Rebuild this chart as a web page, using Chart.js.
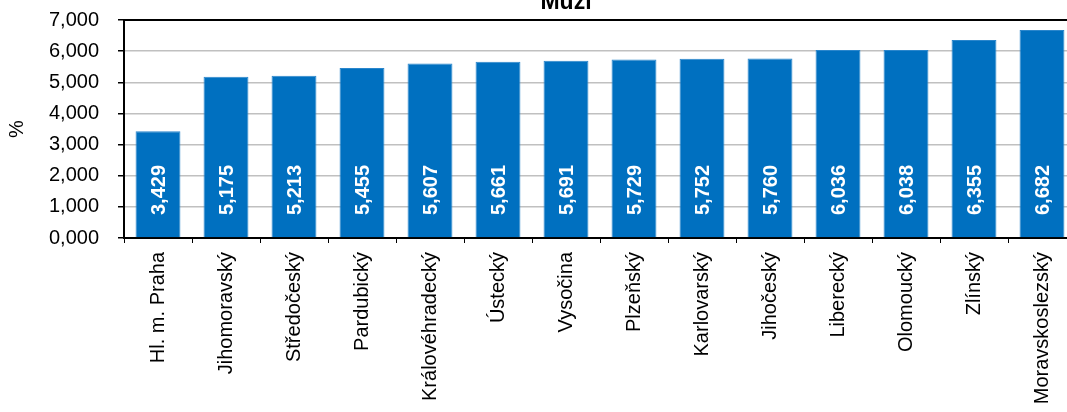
<!DOCTYPE html>
<html>
<head>
<meta charset="utf-8">
<script src="https://cdn.jsdelivr.net/npm/chart.js@4/dist/chart.umd.min.js"></script>
<style>
  html, body { margin: 0; padding: 0; overflow: hidden; background: #fff; }
  #wrap { width: 1078px; height: 412px; }
</style>
</head>
<body>
<div id="wrap"><canvas id="chart"></canvas></div>
<script>
const regions = ["Hl. m. Praha", "Jihomoravský", "Středočeský", "Pardubický", "Královéhradecký",
  "Ústecký", "Vysočina", "Plzeňský", "Karlovarský", "Jihočeský", "Liberecký", "Olomoucký",
  "Zlínský", "Moravskoslezský"];
const values = [3.429, 5.175, 5.213, 5.455, 5.607, 5.661, 5.691, 5.729, 5.752, 5.760, 6.036, 6.038, 6.355, 6.682];
const chartTitle = "Muži";
const yTitle = "%";

const fmt = (v) => v.toFixed(3).replace(".", ",");

// value labels inside bars, plot top border and cut-off title
const extras = {
  id: "extras",
  afterDatasetsDraw(chart) {
    const { ctx, chartArea, scales } = chart;
    const base = scales.y.getPixelForValue(0);
    ctx.save();
    ctx.fillStyle = "#fff";
    ctx.font = "bold 20px 'Liberation Sans', Arial, sans-serif";
    ctx.textAlign = "left";
    ctx.textBaseline = "middle";
    chart.getDatasetMeta(0).data.forEach((bar, i) => {
      ctx.save();
      ctx.translate(bar.x + 1, base - 23);
      ctx.rotate(-Math.PI / 2);
      ctx.fillText(fmt(values[i]), 0, 0);
      ctx.restore();
    });
    ctx.strokeStyle = "#000";
    ctx.lineWidth = 2;
    ctx.beginPath();
    ctx.moveTo(chartArea.left, chartArea.top);
    ctx.lineTo(chartArea.right, chartArea.top);
    ctx.stroke();
    ctx.fillStyle = "#000";
    ctx.font = "bold 23px 'Liberation Sans', Arial, sans-serif";
    ctx.textAlign = "center";
    ctx.textBaseline = "alphabetic";
    ctx.fillText(chartTitle, 566, 9);
    ctx.restore();
  }
};

new Chart(document.getElementById("chart"), {
  type: "bar",
  data: {
    labels: regions,
    datasets: [{
      data: values,
      backgroundColor: "#0070C0",
      borderColor: "#2a86cc",
      borderWidth: 1,
      barPercentage: 0.66,
      categoryPercentage: 1
    }]
  },
  options: {
    responsive: true,
    maintainAspectRatio: false,
    animation: false,
    layout: { padding: { top: 20, right: 2, left: 5, bottom: 0 } },
    plugins: {
      legend: { display: false },
      tooltip: { enabled: false },
      title: { display: false }
    },
    scales: {
      x: {
        afterFit: (s) => { s.height = 174; s.paddingLeft = 0; s.paddingRight = 0; },
        grid: { drawOnChartArea: false, drawTicks: true, tickLength: 5, tickColor: "#000", offset: true },
        border: { color: "#000", width: 2 },
        ticks: {
          color: "#000",
          font: { family: "'Liberation Sans', Arial, sans-serif", size: 20 },
          maxRotation: 90, minRotation: 90,
          padding: 9,
          autoSkip: false
        }
      },
      y: {
        min: 0, max: 7,
        afterFit: (s) => { s.width = 119; s.paddingTop = 0; s.paddingBottom = 0; },
        grid: { color: "#c0c0c0", lineWidth: 1.5, tickLength: 6, tickColor: "#000" },
        border: { color: "#000", width: 2 },
        title: {
          display: true, text: yTitle, color: "#000",
          font: { family: "'Liberation Sans', Arial, sans-serif", size: 20 },
          padding: 0
        },
        ticks: {
          stepSize: 1,
          color: "#000",
          padding: 19,
          font: { family: "'Liberation Sans', Arial, sans-serif", size: 20 },
          callback: (v) => fmt(v)
        }
      }
    }
  },
  plugins: [extras]
});
</script>
</body>
</html>
